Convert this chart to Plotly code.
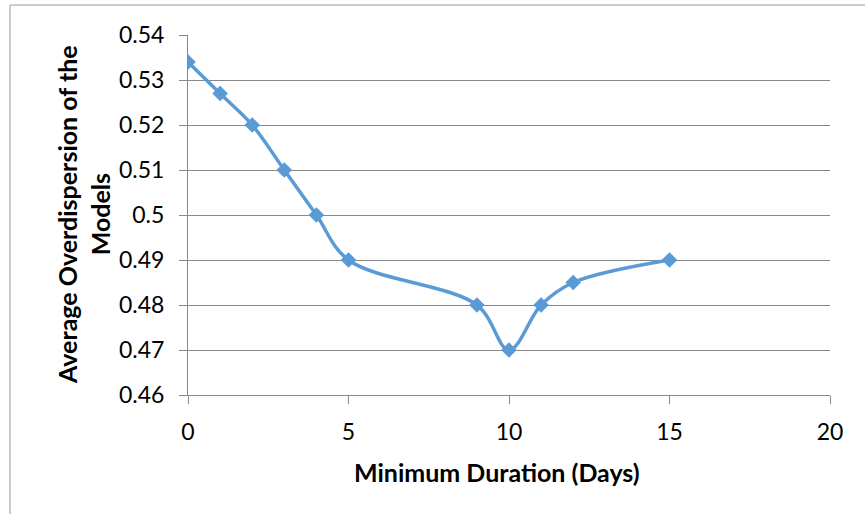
import plotly.graph_objects as go

days = [0, 1, 2, 3, 4, 5, 9, 10, 11, 12, 15]
overdispersion = [0.534, 0.527, 0.520, 0.510, 0.500, 0.490, 0.480, 0.470, 0.480, 0.485, 0.490]

x_ticks = [0, 5, 10, 15, 20]
y_ticks = [0.46, 0.47, 0.48, 0.49, 0.50, 0.51, 0.52, 0.53, 0.54]
y_tick_text = ["0.46", "0.47", "0.48", "0.49", "0.5", "0.51", "0.52", "0.53", "0.54"]

x_title = "<b>Minimum Duration (Days)</b>"
y_title = "<b>Average Overdispersion of the<br>Models</b>"

color = "#5B9BD5"
grid = "#888888"
font = "Lato, 'Open Sans', sans-serif"

W, H = 865, 514
L, R, T, B = 188, 35, 35, 119
PW, PH = W - L - R, H - T - B

fig = go.Figure()
fig.add_trace(go.Scatter(
    x=days, y=overdispersion, mode="lines+markers",
    line=dict(color=color, width=3.5, shape="spline", smoothing=1.0),
    marker=dict(symbol="diamond", size=12, color=color),
    showlegend=False,
))

fig.update_layout(
    width=W, height=H,
    margin=dict(l=L, r=R, t=T, b=B),
    paper_bgcolor="white", plot_bgcolor="white",
    font=dict(family=font, size=23, color="#000000"),
    xaxis=dict(
        range=[0, 20], tickvals=x_ticks, showgrid=False,
        showline=True, linecolor=grid, linewidth=1,
        ticks="outside", ticklen=8, tickcolor=grid,
        tickfont=dict(size=23), zeroline=False, ticklabelstandoff=8,
    ),
    yaxis=dict(
        range=[0.46, 0.54], tickvals=y_ticks, ticktext=y_tick_text,
        showgrid=True, gridcolor=grid, gridwidth=1,
        showline=True, linecolor=grid, linewidth=1,
        ticks="outside", ticklen=8, tickcolor=grid,
        tickfont=dict(size=23), zeroline=False, ticklabelstandoff=10,
    ),
)

fig.add_annotation(text=x_title, xref="paper", yref="paper",
                   x=(497 - L) / PW, y=-(472 - T - PH) / PH,
                   showarrow=False, xanchor="center", yanchor="middle",
                   font=dict(size=25))
fig.add_annotation(text=y_title, xref="paper", yref="paper",
                   x=-(L - 83) / PW, y=1 - (215 - T) / PH,
                   showarrow=False, xanchor="center", yanchor="middle",
                   textangle=-90, font=dict(size=25))

fig.add_shape(type="line", xref="paper", yref="paper",
              x0=-(L - 10) / PW, x1=1 + R / PW, y0=1 + (T - 5) / PH, y1=1 + (T - 5) / PH,
              line=dict(color="#BBBBBB", width=1.5))
fig.add_shape(type="line", xref="paper", yref="paper",
              x0=-(L - 10) / PW, x1=-(L - 10) / PW, y0=-B / PH, y1=1 + (T - 5) / PH,
              line=dict(color="#BBBBBB", width=1.5))

fig.write_html("out.html", config={"displayModeBar": False},
               post_script="document.body.style.margin='0';")
